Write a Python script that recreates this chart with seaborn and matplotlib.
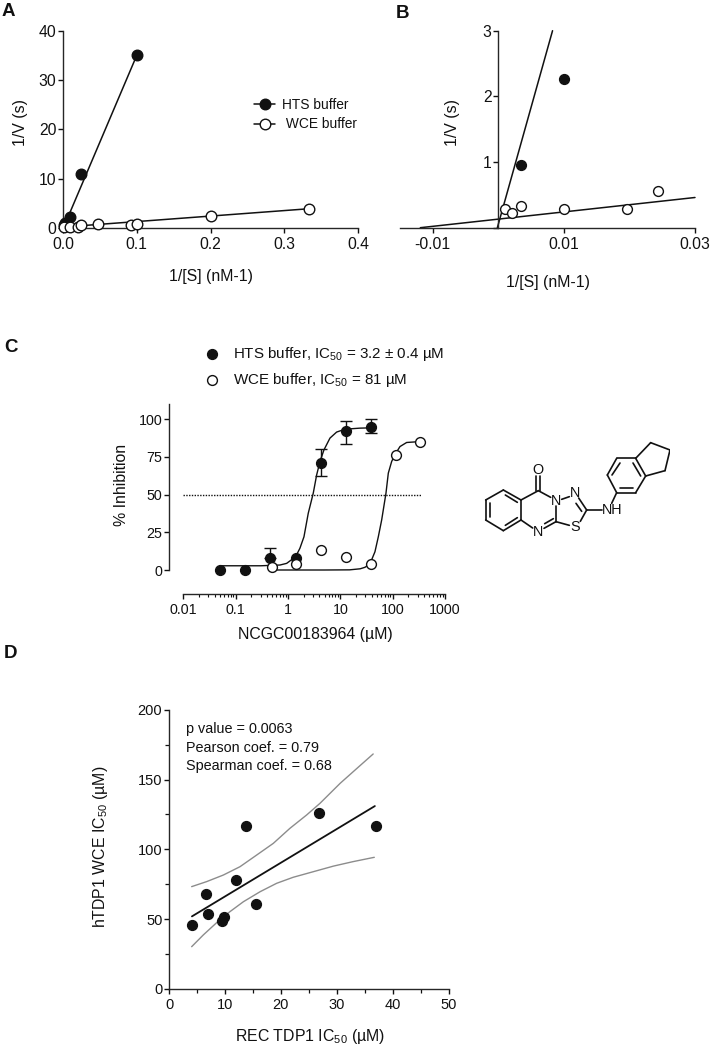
import matplotlib
matplotlib.use("Agg")
import matplotlib.pyplot as plt
from matplotlib.lines import Line2D
from matplotlib.collections import LineCollection
import seaborn as sns
import pandas as pd

sns.set_style("ticks")
plt.rcParams["font.family"] = ["Liberation Sans", "DejaVu Sans"]
plt.rcParams["mathtext.default"] = "regular"
plt.rcParams["axes.linewidth"] = 1.0

W, H = 711, 1050
BLACK = "#111111"
GRAY = "#8c8c8c"

# ---- Panel A
a_hts_x = [0.002, 0.0033, 0.01, 0.025, 0.1]
a_hts_y = [0.6, 0.95, 2.3, 10.9, 35.0]
a_hts_line_x = [0.0005, 0.1]
a_hts_line_y = [0.0, 35.0]
a_wce_x = [0.002, 0.01, 0.02, 0.025, 0.048, 0.092, 0.1, 0.2, 0.333]
a_wce_y = [0.25, 0.27, 0.28, 0.55, 0.88, 0.6, 0.85, 2.5, 3.9]
a_wce_line_x = [0.001, 0.333]
a_wce_line_y = [0.2, 3.9]

# ---- Panel B
b_hts_x = [0.0034, 0.01]
b_hts_y = [0.95, 2.26]
b_hts_line_x = [-0.00015, 0.00827]
b_hts_line_y = [0.0, 3.0]
b_wce_x = [0.001, 0.0021, 0.0034, 0.01, 0.0196, 0.0244]
b_wce_y = [0.28, 0.23, 0.325, 0.28, 0.28, 0.56]
b_wce_line_x = [-0.0119, 0.03]
b_wce_line_y = [0.0, 0.46]

# ---- Panel C
c_hts_x = [0.05, 0.15, 0.46, 1.45, 4.2, 12.8, 38.3]
c_hts_y = [0.2, 0.0, 7.7, 8.0, 71.0, 91.8, 95.0]
c_hts_hi = [0.2, 0.0, 14.5, 8.0, 80.0, 99.0, 100.0]
c_hts_lo = [0.2, 0.0, 7.7, 8.0, 62.0, 83.5, 90.5]
c_wce_x = [0.5, 1.45, 4.2, 12.8, 38.0, 115.0, 340.0]
c_wce_y = [2.0, 3.8, 13.0, 8.8, 3.8, 76.0, 85.0]
c_hts_curve_x = [0.05, 0.3, 0.703, 0.944, 1.40, 1.69, 2.02, 2.44, 3.04, 3.53, 4.09, 4.87, 6.34, 8.5, 12.3, 23.7, 37.8]
c_hts_curve_y = [2.8, 2.8, 3.3, 4.4, 8.8, 14.4, 22.0, 37.6, 50.9, 63.0, 71.9, 79.6, 87.4, 91.4, 93.3, 94.0, 94.2]
c_wce_curve_x = [0.5, 5.0, 15.0, 24.0, 29.6, 36.8, 45.9, 53.2, 61.7, 74.5, 82.6, 95.7, 110.0, 138.0, 185.0, 333.0]
c_wce_curve_y = [0.0, 0.0, 0.1, 0.8, 1.8, 4.0, 12.1, 22.0, 33.2, 50.9, 64.2, 71.9, 76.3, 81.8, 84.5, 85.1]
c_ref_x = [0.01, 350.0]
c_ref_y = [50.0, 50.0]

# ---- Panel D
d_x = [4.1, 6.7, 6.9, 9.5, 9.8, 12.0, 13.8, 15.5, 26.8, 37.0]
d_y = [45.8, 68.0, 54.0, 49.0, 51.5, 77.8, 117.0, 61.0, 126.0, 117.0]
d_fit_x = [4.1, 36.8]
d_fit_y = [52.0, 131.0]
d_up_x = [4.05, 6.73, 9.71, 12.7, 15.7, 18.65, 21.6, 24.6, 27.0, 30.6, 33.6, 36.5]
d_up_y = [73.3, 76.9, 81.6, 87.6, 96.0, 104.3, 115.0, 124.6, 133.0, 147.3, 158.0, 168.3]
d_lo_x = [4.05, 6.13, 8.52, 10.9, 13.3, 16.3, 19.25, 22.2, 25.8, 29.4, 32.9, 36.7]
d_lo_y = [30.3, 38.7, 47.5, 55.4, 62.5, 69.7, 75.7, 80.0, 84.0, 88.0, 91.2, 94.3]

# ---- Structure (bond segments, drawing units)
bonds = [
    ((100,210),(153,240)),((153,240),(153,300)),((153,300),(100,332)),((100,332),(47,300)),
    ((47,300),(47,240)),((47,240),(100,210)),((106,225),(142,247)),((142,293),(106,316)),((61,291),(61,249)),
    ((153,240),(205,212)),((205,212),(242,232)),((258,258),(258,305)),((258,305),(222,325)),
    ((250,296),(224,311)),((188,324),(153,300)),
    ((199,212),(199,168)),((211,212),(211,168)),
    ((275,238),(298,230)),((326,234),(350,270)),((318,250),(335,274)),((350,270),(331,304)),((298,316),(258,305)),
    ((350,270),(395,270)),((425,250),(440,218)),
    ((440,218),(497,218)),((497,218),(527,168)),((527,168),(497,115)),((497,115),(440,115)),((440,115),(412,165)),((412,165),(440,218)),
    ((450,204),(489,204)),((512,168),(489,129)),((450,129),(426,165)),
    ((497,115),(542,68)),((542,68),(600,90)),((600,90),(585,152)),((585,152),(527,168)),
]
atoms = [("O",205,150),("N",258,242),("N",315,218),("N",205,335),("S",315,322),("NH",425,270)]

fig = plt.figure(figsize=(W / 100, H / 100), dpi=100, facecolor="white")


def new_axes(l, t, r, b):
    ax = fig.add_axes([l / W, 1 - b / H, (r - l) / W, (b - t) / H])
    ax.patch.set_alpha(0)
    sns.despine(ax=ax)
    ax.tick_params(axis="both", which="major", length=3.8, width=1.0, color=BLACK, labelcolor=BLACK)
    return ax


def labels(ax, xl, xp, yl, yp, size=11.4):
    ax.set_xlabel(xl, fontsize=size, color=BLACK, va="center")
    ax.set_ylabel(yl, fontsize=size, color=BLACK, va="center")
    ax.xaxis.set_label_coords(xp[0] / W, 1 - xp[1] / H, transform=fig.transFigure)
    ax.yaxis.set_label_coords(yp[0] / W, 1 - yp[1] / H, transform=fig.transFigure)


def line(ax, x, y, **kw):
    df = pd.DataFrame({"x": x, "y": y})
    style = dict(color=BLACK, lw=1.1, clip_on=False, zorder=2, estimator=None, sort=False, legend=False)
    style.update(kw)
    sns.lineplot(data=df, x="x", y="y", ax=ax, **style)


def dots(ax, x, y, filled=True, s=48):
    df = pd.DataFrame({"x": x, "y": y})
    sns.scatterplot(data=df, x="x", y="y", ax=ax, s=s, color=BLACK if filled else "white",
                    edgecolor=BLACK, linewidth=1.0, clip_on=False, zorder=4, legend=False)


# Panel A
ax = new_axes(63, 30.7, 358, 228)
line(ax, a_hts_line_x, a_hts_line_y)
line(ax, a_wce_line_x, a_wce_line_y)
dots(ax, a_hts_x, a_hts_y, True, 58)
dots(ax, a_wce_x, a_wce_y, False, 58)
ax.set_xlim(0, 0.4)
ax.set_ylim(0, 40)
ax.set_xticks([0, 0.1, 0.2, 0.3, 0.4], ["0.0", "0.1", "0.2", "0.3", "0.4"])
ax.set_yticks([0, 10, 20, 30, 40])
ax.tick_params(axis="x", labelsize=11.3, pad=3)
ax.tick_params(axis="y", labelsize=11.3, pad=1)
labels(ax, "1/[S] (nM-1)", (211, 277), "1/V (s)", (21, 123))
handles = [
    Line2D([], [], color=BLACK, lw=1.1, marker="o", ms=7.6, mfc=BLACK, mec=BLACK),
    Line2D([], [], color=BLACK, lw=1.1, marker="o", ms=7.6, mfc="white", mec=BLACK),
]
fig.legend(handles, ["HTS buffer", " WCE buffer"], loc="center left", frameon=False, fontsize=9.9,
           bbox_to_anchor=(247 / W, 1 - 114.5 / H), handlelength=1.55, handletextpad=0.5,
           labelspacing=0.42, borderpad=0, labelcolor=BLACK)

# Panel B
ax = new_axes(400, 30.7, 695, 227.7)
line(ax, b_hts_line_x, b_hts_line_y)
line(ax, b_wce_line_x, b_wce_line_y)
dots(ax, b_hts_x, b_hts_y, True, 50)
dots(ax, b_wce_x, b_wce_y, False, 50)
ax.set_xlim(-0.015, 0.03)
ax.set_ylim(0, 3)
ax.spines["left"].set_position(("data", 0))
ax.set_xticks([-0.01, 0.01, 0.03], ["-0.01", "0.01", "0.03"])
ax.set_yticks([0, 1, 2, 3], ["", "1", "2", "3"])
ax.tick_params(axis="x", labelsize=11.3, pad=3)
ax.tick_params(axis="y", labelsize=11.3, pad=1)
labels(ax, "1/[S] (nM-1)", (548, 283), "1/V (s)", (453, 123))

# Panel C
ax = new_axes(183.3, 404, 445, 570)
line(ax, c_ref_x, c_ref_y, ls=(0, (1, 1)), lw=1.0)
line(ax, c_hts_curve_x, c_hts_curve_y, lw=1.0)
line(ax, c_wce_curve_x, c_wce_curve_y, lw=1.0)
for i, (xv, lo, hi) in enumerate(zip(c_hts_x, c_hts_lo, c_hts_hi)):
    if hi > lo:
        ax.errorbar([xv], [c_hts_y[i]], yerr=[[c_hts_y[i] - lo], [hi - c_hts_y[i]]], fmt="none",
                    ecolor=BLACK, elinewidth=1.0, capsize=4.5, capthick=1.0, zorder=3)
dots(ax, c_hts_x, c_hts_y, True, 50)
dots(ax, c_wce_x, c_wce_y, False, 50)
ax.set_xscale("log")
ax.set_xlim(0.01, 1000)
ax.set_ylim(0, 110)
ax.spines["left"].set_position(("outward", 10.1))
ax.spines["bottom"].set_position(("outward", 17.3))
ax.set_xticks([0.01, 0.1, 1, 10, 100, 1000], ["0.01", "0.1", "1", "10", "100", "1000"])
ax.set_yticks([0, 25, 50, 75, 100])
ax.tick_params(axis="x", which="minor", length=2.2, width=0.8, color=BLACK)
ax.tick_params(axis="x", labelsize=10.3, pad=2.5)
ax.tick_params(axis="y", labelsize=10.3, pad=1)
labels(ax, "NCGC00183964 (µM)", (315, 634), "% Inhibition", (121, 485))
fig.text(233 / W, 1 - 354 / H, "HTS buffer, IC$_{50}$ = 3.2 ± 0.4 µM", fontsize=10.9, va="center", color=BLACK)
fig.text(233 / W, 1 - 380 / H, "WCE buffer, IC$_{50}$ = 81 µM", fontsize=10.9, va="center", color=BLACK)
leg_ax = fig.add_axes([0, 0, 1, 1])
leg_ax.axis("off")
leg_ax.set_xlim(0, W)
leg_ax.set_ylim(H, 0)
dots(leg_ax, [211.7], [354], True, 50)
dots(leg_ax, [211.7], [380], False, 50)

# Structure
mol = fig.add_axes([470 / W, 1 - 570 / H, 200 / W, 150 / H])
mol.axis("off")
mol.set_xlim(0, 600)
mol.set_ylim(450, 0)
mol.add_collection(LineCollection(bonds, colors=BLACK, linewidths=1.2, capstyle="round"))
for txt, xv, yv in atoms:
    mol.text(xv, yv, txt, fontsize=10.4, ha="center", va="center", color=BLACK)

# Panel D
ax = new_axes(169, 709.7, 448.7, 989)
line(ax, d_up_x, d_up_y, color=GRAY, lw=1.0)
line(ax, d_lo_x, d_lo_y, color=GRAY, lw=1.0)
line(ax, d_fit_x, d_fit_y, lw=1.3)
dots(ax, d_x, d_y, True, 50)
ax.set_xlim(0, 50)
ax.set_ylim(0, 200)
ax.set_xticks([0, 10, 20, 30, 40, 50])
ax.set_xticks([5, 15, 25, 35, 45], minor=True)
ax.set_yticks([0, 50, 100, 150, 200])
ax.set_yticks([25, 75, 125, 175], minor=True)
ax.tick_params(axis="both", which="minor", length=2.6, width=0.9, color=BLACK)
ax.tick_params(axis="x", labelsize=10.5, pad=2.5)
ax.tick_params(axis="y", labelsize=10.5, pad=1)
labels(ax, "REC TDP1 IC$_{50}$ (µM)", (310, 1037), "hTDP1 WCE IC$_{50}$ (µM)", (101, 847))
for txt, yp in [("p value = 0.0063", 729), ("Pearson coef. = 0.79", 747.5), ("Spearman coef. = 0.68", 766)]:
    fig.text(185.7 / W, 1 - yp / H, txt, fontsize=10.4, va="center", color=BLACK)

# Panel letters
for txt, xp, yp in [("A", 2, 11.5), ("B", 396, 13.5), ("C", 4, 347), ("D", 4, 654)]:
    fig.text(xp / W, 1 - yp / H, txt, fontsize=13.5, fontweight="bold", va="center", color=BLACK)

fig.savefig("out.png", dpi=100)
